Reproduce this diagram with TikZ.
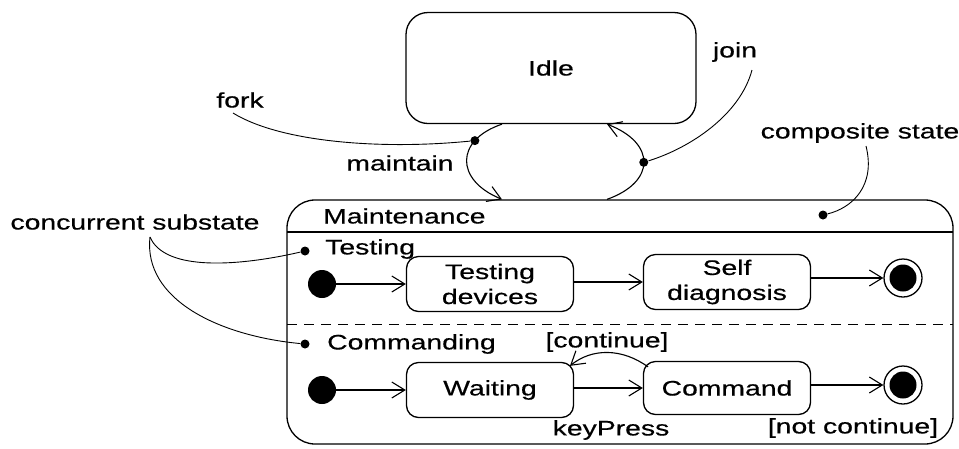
\documentclass[tikz,border=0pt]{standalone}
\usepackage{fontspec}
\setmainfont{Liberation Sans}[FakeStretch=1.35, FakeBold=0.5]
\usetikzlibrary{arrows.meta}

\tikzset{
  statebox/.style={draw, line width=1.3pt, rounded corners=12pt, minimum width=167pt,
    minimum height=55pt, inner sep=0pt, align=center},
  trans/.style={line width=1.1pt, -{Straight Barb[length=13pt,width=16pt,line width=1.1pt]}},
  callout/.style={line width=0.9pt},
  pin dot/.style={circle, fill=black, minimum size=9pt, inner sep=0pt},
  initial dot/.style={circle, fill=black, minimum size=28pt, inner sep=0pt},
  final ring/.style={circle, draw, line width=1.3pt, minimum size=38pt, inner sep=0pt},
  final core/.style={circle, fill=black, minimum size=27pt, inner sep=0pt},
  lbl/.style={inner sep=0pt}
}

\begin{document}
\begin{tikzpicture}[x=1pt, y=-1pt, font=\fontsize{21}{25}\selectfont]
  \useasboundingbox (0,0) rectangle (959,448);

  % top-level states
  \node[draw, line width=1.3pt, rounded corners=22pt, minimum width=290pt, minimum height=111pt]
    (idle) at (551,68) {Idle};
  \node[draw, line width=1.3pt, rounded corners=28pt, minimum width=666pt, minimum height=244pt]
    (maint) at (620,322) {};

  % compartments of the composite state
  \coordinate (hdrL) at (287,232);
  \coordinate (hdrR) at (953,232);
  \draw[line width=1.3pt] (hdrL) -- (hdrR);
  \coordinate (dashL) at (287,324);
  \coordinate (dashR) at (953,324);
  \draw[line width=1pt, dash pattern=on 10pt off 7pt] (dashL) -- (dashR);

  \node[lbl, anchor=west] (mname) at (323,216) {Maintenance};
  \node[lbl, anchor=west] (tname) at (325,249) {Testing};
  \node[lbl, anchor=west] (cname) at (327,344) {Commanding};

  % Testing region
  \node[initial dot] (i1) at (322,284) {};
  \node[statebox] (td) at (490,284) {Testing\\devices};
  \node[statebox] (sd) at (727,282) {Self\\diagnosis};
  \node[final ring] (f1) at (903,278) {};
  \node[final core] at (f1) {};
  \draw[trans] (i1) -- (td.west |- i1);
  \draw[trans] (td.east |- sd) -- (sd.west);
  \draw[trans] (sd.east |- f1) -- (f1);

  % Commanding region
  \node[initial dot] (i2) at (322,390) {};
  \node[statebox] (wt) at (490,390) {Waiting};
  \node[statebox, minimum height=53pt] (cm) at (727,388) {Command};
  \node[final ring] (f2) at (903,385) {};
  \node[final core] at (f2) {};
  \draw[trans] (i2) -- (wt.west |- i2);
  \draw[trans] (wt.east |- cm) -- (cm.west);
  \draw[trans] (cm.east |- f2) -- (f2);
  \draw[trans] ([xshift=-79pt,yshift=-6pt]cm.north) .. controls (622,348) and (592,348) .. ([xshift=80pt,yshift=-4pt]wt.north);
  \node[lbl] (cont) at (607,342) {[continue]};
  \node[lbl] (kp) at (611,430) {keyPress};
  \node[lbl] (nc) at (853,428) {[not continue]};

  % transitions between Idle and Maintenance
  \draw[trans] ([xshift=-49pt]idle.south) .. controls (455,140) and (455,180) .. ([xshift=-118pt]maint.north)
    node[pin dot, pos=0.26] (fk) {};
  \draw[trans] ([xshift=-13pt]maint.north) .. controls (656,182) and (656,143) .. ([xshift=56pt]idle.south)
    node[pin dot, pos=0.5] (jn) {};
  \node[lbl] (mtl) at (400,163) {maintain};

  % annotations
  \node[lbl] (forkl) at (240,100) {fork};
  \coordinate (forkend) at (233,113);
  \draw[callout] (fk) .. controls (380,150) and (280,142) .. (forkend);

  \node[lbl] (joinl) at (735,52) {join};
  \coordinate (joinend) at (752,70);
  \draw[callout] (jn) .. controls (690,148) and (740,115) .. (joinend);

  \node[lbl] (compl) at (860,133) {composite state};
  \node[pin dot] (cdot) at (823,215) {};
  \coordinate (compend) at (866,146);
  \draw[callout] (compend) .. controls (876,186) and (852,208) .. (cdot);

  \node[lbl] (concl) at (135,222) {concurrent substate};
  \coordinate (concend) at (150,237);
  \node[pin dot] (tdot) at (305,251) {};
  \node[pin dot] (cdot2) at (305,344) {};
  \draw[callout] (concend) .. controls (165,272) and (240,266) .. (tdot);
  \draw[callout] (concend) .. controls (143,300) and (220,336) .. (cdot2);
\end{tikzpicture}
\end{document}
